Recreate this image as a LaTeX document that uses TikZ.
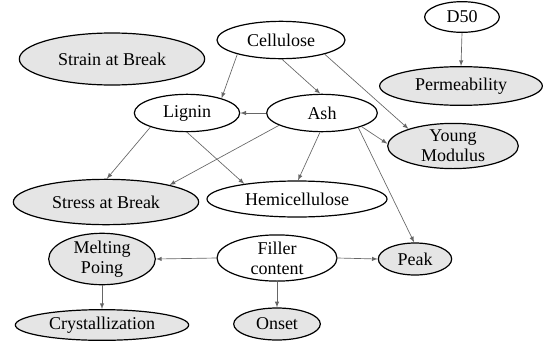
\documentclass[tikz,border=0pt]{standalone}
\usepackage{fontspec}
\setmainfont{Liberation Serif}
\usepackage{tikz}
\usetikzlibrary{shapes.geometric}

\begin{document}
\begin{tikzpicture}[x=0.75pt,y=-0.75pt,
  var/.style={ellipse,draw,line width=0.9pt,inner sep=0pt,align=center,
    font=\fontsize{13.5}{15}\selectfont},
  outvar/.style={var,fill=gray!20},
  edge/.style={->,>=latex,draw=black!60,line width=0.5pt}]
\useasboundingbox (0,0) rectangle (549,343);

\node[outvar,minimum width=139pt,minimum height=39pt](1) at (112,59){Strain at Break};
\node[var,minimum width=96pt,minimum height=28pt](2) at (281,40){Cellulose};
\node[var,minimum width=56pt,minimum height=23pt](3) at (462,17){D50};
\node[outvar,minimum width=122pt,minimum height=29pt](4) at (461,86){Permeability};
\node[var,minimum width=79pt,minimum height=28pt](5) at (187,113){Lignin};
\node[var,minimum width=83pt,minimum height=28pt](6) at (322,113){Ash};
\node[outvar,minimum width=98pt,minimum height=32pt](7) at (453,146){Young\\Modulus};
\node[outvar,minimum width=139pt,minimum height=34pt](8) at (106,202){Stress at Break};
\node[var,minimum width=135pt,minimum height=27pt](9) at (297,199){Hemicellulose};
\node[outvar,minimum width=80pt,minimum height=32pt](10) at (102,259){Melting\\Poing};
\node[var,minimum width=90pt,minimum height=32pt](11) at (277,258){Filler\\content};
\node[outvar,minimum width=55pt,minimum height=24pt](12) at (415,259){Peak};
\node[outvar,minimum width=130pt,minimum height=23pt](13) at (102,325){Crystallization};
\node[outvar,minimum width=65pt,minimum height=24pt](14) at (277,324){Onset};

\draw[edge](2.198)--(5.23);
\draw[edge](2.273)--(6.95);
\draw[edge](2.342)--(7.159);
\draw[edge](3.south)--(4.north);
\draw[edge](6.180)--(5.0);
\draw[edge](6.341)--(7.178);
\draw[edge](6.338)--(12.93);
\draw[edge](6.264)--(9.87);
\draw[edge](6.196)--(8.15);
\draw[edge](5.201)--(8.88);
\draw[edge](5.270)--(9.164);
\draw[edge](11.180)--(10.0);
\draw[edge](11.0)--(12.180);
\draw[edge](11.south)--(14.north);
\draw[edge](10.south)--(13.north);

\end{tikzpicture}
\end{document}
